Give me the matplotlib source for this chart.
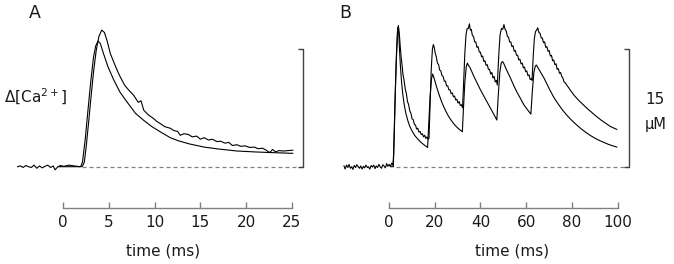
import matplotlib
matplotlib.use('Agg')
import matplotlib.pyplot as plt

# ---- panel A : single action potential (time in ms, d[Ca] in uM) ----
a_meas_t = [-5.0, -4.7, -4.4, -4.1, -3.8, -3.5, -3.2, -2.9, -2.6, -2.3, -2.0, -1.7, -1.4,
            -1.1, -0.9, -0.6, -0.3, 0.0, 0.3, 0.6, 0.9, 1.2, 1.5, 1.8, 2.1,
            2.3, 2.5, 2.8, 3.0, 3.3, 3.6, 3.9, 4.2, 4.5, 4.8, 5.15, 5.6, 6.0, 6.25, 6.7,
            7.2, 7.7, 8.2, 8.5, 8.8, 9.3, 9.8, 10.2, 10.6, 11.1, 11.7, 12.1, 12.5, 12.8,
            13.2, 13.7, 14.1, 14.6, 15.0, 15.4, 15.9, 16.3, 16.8, 17.2, 17.7, 18.1, 18.5,
            19.0, 19.4, 19.9, 20.4, 20.9, 21.3, 21.8, 22.2, 22.6, 22.9, 23.2, 23.6, 24.1,
            24.6, 25.1]
a_meas_v = [0.0, 0.1, -0.1, 0.15, 0.0, -0.1, 0.2, -0.2, 0.1, -0.15, 0.05, 0.2, -0.1,
            0.1, -0.4, 0.0, 0.15, 0.05, 0.1, 0.2, 0.15, 0.1, 0.05, 0.0, 0.05,
            0.6, 2.5, 6.0, 8.5, 12.0, 14.8, 16.6, 17.4, 17.1, 16.0, 14.4, 13.1, 12.0, 11.4, 10.4,
            9.7, 9.1, 8.2, 8.4, 7.2, 6.6, 6.2, 5.8, 5.5, 5.1, 4.9, 4.6, 4.5, 4.0,
            4.2, 4.1, 3.8, 3.9, 3.5, 3.7, 3.4, 3.5, 3.2, 3.25, 3.0, 3.1, 2.7,
            2.8, 2.6, 2.65, 2.45, 2.5, 2.3, 2.35, 2.1, 1.8, 2.2, 1.9, 2.05, 2.0,
            2.05, 2.1]

a_model_t = [-0.5, 1.9, 2.1, 2.4, 2.7, 3.0, 3.3, 3.55, 3.8, 4.05, 4.4, 4.9, 5.5, 6.2,
             7.0, 7.9, 8.8, 9.7, 10.6, 11.7, 12.6, 13.8, 15.4, 17.0, 19.0, 21.0, 22.7,
             24.0, 25.1]
a_model_v = [0.0, 0.0, 0.6, 3.5, 7.2, 10.8, 13.9, 15.4, 16.0, 15.7, 14.4, 12.7, 11.1, 9.5,
             8.2, 6.8, 5.9, 5.1, 4.45, 3.7, 3.3, 2.9, 2.5, 2.25, 2.0, 1.88, 1.8,
             1.75, 1.7]

# ---- panel B : train of five action potentials ----
b_meas_t = [-19.7, -19.2, -18.6, -18.0, -17.5, -16.9, -16.3, -15.8, -15.2, -14.6, -14.1,
            -13.5, -12.9, -12.4, -11.8, -11.2, -10.7, -10.1, -9.5, -9.0, -8.4, -7.8, -7.3,
            -6.7, -6.1, -5.6, -5.0, -4.4, -3.9, -3.3, -2.7, -2.2, -1.6, -1.0, -0.5, 0.1,
            0.6, 1.2, 1.7,
            2.0, 2.6, 3.2, 3.7, 4.1, 4.5, 4.9, 5.3, 5.7, 6.1, 6.6, 7.1, 7.6, 8.1, 8.6, 9.1,
            9.6, 10.1, 10.6, 11.1, 11.6, 12.1, 12.6, 13.1, 13.6, 14.1, 14.6, 15.1, 15.6,
            16.1, 16.6, 17.1, 17.5,
            18.0, 18.5, 19.0, 19.4, 19.8, 20.2, 20.7, 21.2, 21.7, 22.2, 22.7, 23.2, 23.7,
            24.2, 24.7, 25.2, 25.7, 26.2, 26.7, 27.2, 27.7, 28.2, 28.7, 29.2, 29.7, 30.2,
            30.7, 31.2, 31.7, 32.2,
            32.7, 33.2, 33.7, 34.2, 34.7, 35.2, 35.6, 36.0, 36.5, 37.0, 37.5, 38.0, 38.5,
            39.0, 39.5, 40.0, 40.5, 41.0, 41.5, 42.0, 42.5, 43.0, 43.5, 44.0, 44.5, 45.0,
            45.5, 46.0, 46.5, 47.0, 47.4,
            48.0, 48.6, 49.2, 49.8, 50.3, 50.8, 51.3, 51.8, 52.3, 52.8, 53.3, 53.8, 54.3,
            54.8, 55.3, 55.8, 56.3, 56.8, 57.3, 57.8, 58.3, 58.8, 59.3, 59.8, 60.3, 60.8,
            61.3, 61.8, 62.3, 62.6,
            63.1, 63.6, 64.1, 64.6, 65.1, 65.6, 66.1, 66.6, 67.1, 67.6, 68.1, 68.6, 69.1,
            69.6, 70.1, 70.6, 71.1, 71.6, 72.1, 72.6, 73.1, 73.6, 74.1, 74.6, 75.1, 75.6,
            76.1, 76.6, 77.1, 77.8, 79.0, 81.0, 83.0, 85.0, 87.0, 89.0, 91.0, 93.0, 95.0,
            97.0, 99.7]
b_meas_v = [0.1, -0.3, 0.2, -0.1, 0.3, -0.2, 0.0, -0.35, 0.15, -0.1, 0.25,
            0.0, -0.2, 0.1, -0.3, 0.05, -0.15, 0.2, -0.1, 0.0, -0.3, 0.15, -0.05,
            0.2, -0.25, 0.1, -0.1, 0.3, 0.0, -0.2, 0.25, 0.1, -0.15, 0.4, 0.05, 0.3,
            0.0, 0.45, 0.2,
            1.5, 8.0, 13.5, 16.8, 18.0, 17.0, 15.4, 14.0, 13.0, 11.8, 11.0, 9.9, 9.3, 8.3, 7.9, 7.1,
            6.8, 6.1, 6.0, 5.4, 5.3, 4.8, 4.9, 4.4, 4.5, 4.1, 4.2, 3.8, 4.0,
            3.6, 3.8, 3.5, 3.6,
            8.0, 12.5, 15.0, 15.55, 15.2, 14.5, 14.0, 13.2, 13.0, 12.3, 12.2, 11.6, 11.5,
            10.9, 10.9, 10.3, 10.3, 9.8, 9.8, 9.3, 9.4, 8.9, 9.0, 8.5, 8.6, 8.1,
            8.3, 7.8, 7.9, 7.5,
            11.0, 14.5, 16.8, 17.6, 17.6, 18.2, 17.4, 17.5, 16.7, 16.6, 15.9, 15.9, 15.2,
            15.3, 14.6, 14.6, 14.0, 14.1, 13.4, 13.5, 12.9, 13.0, 12.4, 12.4, 11.8, 12.0,
            11.3, 11.5, 10.8, 11.0, 10.4,
            14.0, 16.8, 17.6, 17.5, 18.1, 17.5, 17.3, 16.6, 16.5, 15.9, 15.9, 15.3, 15.4,
            14.7, 14.8, 14.2, 14.2, 13.6, 13.7, 13.1, 13.2, 12.6, 12.7, 12.1, 12.2, 11.6,
            11.7, 11.1, 11.2, 11.0,
            14.0, 16.3, 17.2, 17.4, 17.7, 17.1, 17.0, 16.4, 16.4, 15.8, 15.9, 15.2, 15.3,
            14.7, 14.8, 14.1, 14.2, 13.5, 13.6, 13.0, 13.1, 12.4, 12.5, 11.9, 12.0, 11.5,
            11.3, 10.8, 10.7, 10.4, 9.9, 9.1, 8.45, 7.9, 7.35, 6.85, 6.35, 5.9, 5.5,
            5.1, 4.75]

b_model_t = [1.0, 1.9, 2.3, 2.8, 3.3, 3.7, 4.0, 4.3, 4.6, 5.0, 5.5, 6.0, 6.6, 7.3, 8.1,
             9.0, 10.0, 11.2, 12.5, 14.0, 15.5, 16.9,
             17.4, 18.0, 18.6, 19.1, 19.6, 20.2, 21.0, 22.0, 23.0, 24.0, 25.0, 26.0, 27.0,
             28.0, 29.0, 30.0, 31.0, 32.1,
             32.6, 33.2, 33.8, 34.3, 34.8, 35.5, 37.0, 38.5, 40.0, 41.5, 43.0, 44.5, 46.0,
             47.2,
             47.8, 48.5, 49.1, 49.7, 50.3, 51.5, 53.0, 54.5, 56.0, 57.5, 59.0, 60.5, 62.1,
             62.7, 63.4, 64.0, 64.5, 65.2, 66.0, 68.0, 70.0, 72.0, 74.0, 76.0, 78.0, 80.0,
             82.0, 84.0, 86.0, 88.0, 90.0, 92.0, 94.0, 96.0, 98.0, 99.7]
b_model_v = [0.0, 0.0, 4.0, 10.0, 14.8, 17.2, 17.8, 16.8, 14.9, 12.8, 10.8, 9.3, 8.0, 6.9, 6.0,
             5.2, 4.6, 4.0, 3.55, 3.1, 2.75, 2.45,
             5.5, 9.0, 11.2, 11.8, 11.4, 10.8, 10.0, 9.1, 8.3, 7.6, 7.0, 6.45, 6.0,
             5.6, 5.25, 4.95, 4.7, 4.45,
             7.5, 10.8, 12.7, 13.2, 12.9, 12.6, 11.6, 10.7, 9.8, 9.0, 8.2, 7.4, 6.6,
             5.95,
             9.0, 12.0, 13.2, 13.4, 13.1, 12.3, 11.4, 10.4, 9.5, 8.7, 7.9, 7.3, 6.7,
             9.5, 12.0, 12.8, 12.95, 12.6, 12.2, 11.2, 10.0, 8.9, 8.0, 7.2, 6.5, 5.9,
             5.35, 4.85, 4.4, 4.0, 3.65, 3.35, 3.1, 2.85, 2.65, 2.5]

a_ticks = [0, 5, 10, 15, 20, 25]
b_ticks = [0, 20, 40, 60, 80, 100]
scale_bar_uM = 15

# ---- layout (pixels of the 674x264 figure) ----
W, H = 674, 264
y0_px, y_per = 166.7, 7.85        # pixel row of 0 uM, pixels per uM
ylim = (-6.5, 19.5)
axis_y = (y0_px - 207.5) / y_per  # position of the time axis in uM units


def make_axes(fig, t0_px, x_per, xlim):
    left = t0_px + x_per * xlim[0]
    right = t0_px + x_per * xlim[1]
    top = y0_px - y_per * ylim[1]
    bot = y0_px - y_per * ylim[0]
    ax = fig.add_axes([left / W, (H - bot) / H, (right - left) / W, (bot - top) / H])
    ax.set_xlim(xlim)
    ax.set_ylim(ylim)
    ax.patch.set_visible(False)
    for s in ['left', 'right', 'top']:
        ax.spines[s].set_visible(False)
    ax.spines['bottom'].set_position(('data', axis_y))
    ax.spines['bottom'].set_color('#808080')
    ax.spines['bottom'].set_linewidth(1.0)
    ax.set_yticks([])
    ax.tick_params(axis='x', direction='in', length=4.5, width=1.0, color='#808080',
                   labelsize=11, labelcolor='#1a1a1a', pad=5.5)
    return ax


fig = plt.figure(figsize=(W / 100, H / 100), dpi=100)
plt.rcParams['font.family'] = ['DejaVu Sans']

trace_kw = dict(color='black', linewidth=0.8)
dash_kw = dict(color='#808080', linewidth=0.9, dashes=(3.2, 2.4))
bar_kw = dict(color='#404040', linewidth=1.0, solid_capstyle='butt')

# panel A
axA = make_axes(fig, 63.3, 9.14, (-6, 27.5))
barA, tickA = 26.2, 0.55
axA.plot([2.0, barA], [0, 0], **dash_kw)
axA.plot(a_model_t, a_model_v, **trace_kw)
axA.plot(a_meas_t, a_meas_v, **trace_kw)
axA.plot([barA - tickA, barA, barA, barA - tickA], [0, 0, scale_bar_uM, scale_bar_uM], **bar_kw)
axA.spines['bottom'].set_bounds(a_ticks[0], a_ticks[-1])
axA.set_xticks(a_ticks)
axA.text(10.96, (y0_px - 251) / y_per, 'time (ms)', ha='center', va='center',
         fontsize=11, color='#1a1a1a', clip_on=False)

# panel B
axB = make_axes(fig, 389.0, 2.285, (-22, 108))
barB, tickB = 105.2, 2.2
axB.plot([3.0, barB], [0, 0], **dash_kw)
axB.plot(b_model_t, b_model_v, **trace_kw)
axB.plot(b_meas_t, b_meas_v, **trace_kw)
axB.plot([barB - tickB, barB, barB, barB - tickB], [0, 0, scale_bar_uM, scale_bar_uM], **bar_kw)
axB.spines['bottom'].set_bounds(b_ticks[0], b_ticks[-1])
axB.set_xticks(b_ticks)
axB.text(53.8, (y0_px - 251) / y_per, 'time (ms)', ha='center', va='center',
         fontsize=11, color='#1a1a1a', clip_on=False)

# labels
fig.text(35 / W, 1 - 13.5 / H, 'A', ha='center', va='center', fontsize=12.5, color='#1a1a1a')
fig.text(345.7 / W, 1 - 13.5 / H, 'B', ha='center', va='center', fontsize=12.5, color='#1a1a1a')
fig.text(3.5 / W, 1 - 96.7 / H, r'$\Delta$[Ca$^{2+}$]', ha='left', va='center',
         fontsize=11, color='#1a1a1a')
fig.text(645 / W, 1 - 100 / H, str(scale_bar_uM), ha='left', va='center', fontsize=11, color='#1a1a1a')
fig.text(645 / W, 1 - 124 / H, 'µM', ha='left', va='center', fontsize=10.5, color='#1a1a1a')

fig.savefig('out.png', dpi=100)
